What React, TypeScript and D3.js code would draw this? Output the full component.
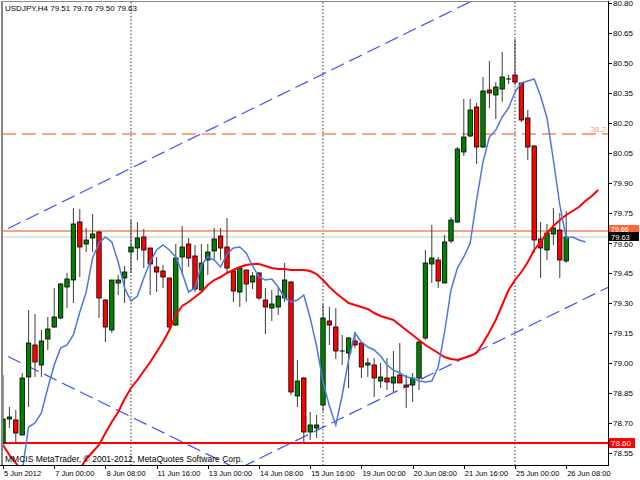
import React from "react";
import * as d3 from "d3";

// USDJPY H4 bars, 5 Jun 2012 16:00 .. 26 Jun 2012 08:00
const opens = [
  78.6, 78.72, 78.715, 78.64, 78.93, 79.09, 78.99, 79.12, 79.18, 79.225,
  79.38, 79.415, 79.705, 79.595, 79.625, 79.655, 79.315, 79.165, 79.4, 79.425,
  79.555, 79.575, 79.63, 79.575, 79.48, 79.46, 79.425, 79.19, 79.53, 79.595,
  79.535, 79.365, 79.515, 79.56, 79.635, 79.58, 79.46, 79.355, 79.465, 79.405,
  79.45, 79.315, 79.275, 79.28, 79.325, 79.405, 78.835, 78.925, 78.655, 78.675,
  78.79, 79.21, 79.18, 79.06, 79.05, 79.11, 79.1, 78.99, 78.99, 78.91,
  78.925, 78.9, 78.94, 78.89, 78.89, 78.925, 79.125, 79.495, 79.515, 79.4,
  79.61, 79.705, 80.055, 80.135, 80.28, 80.08, 80.365, 80.34, 80.37, 80.42,
  80.44, 80.4, 80.225, 80.085, 79.62, 79.565, 79.645, 79.665, 79.51,
];
const highs = [
  78.94, 78.78, 78.765, 78.95, 79.265, 79.245, 79.165, 79.23, 79.375, 79.4,
  79.45, 79.775, 79.77, 79.675, 79.745, 79.66, 79.32, 79.415, 79.44, 79.485,
  79.715, 79.705, 79.67, 79.575, 79.53, 79.49, 79.425, 79.595, 79.685, 79.625,
  79.59, 79.595, 79.595, 79.675, 79.675, 79.725, 79.46, 79.48, 79.465, 79.455,
  79.455, 79.375, 79.365, 79.375, 79.5, 79.41, 79.015, 78.93, 78.755, 78.74,
  79.295, 79.28, 79.275, 79.14, 79.13, 79.155, 79.1, 79.025, 79.025, 79.0,
  79.025, 79.06, 79.1, 78.94, 78.95, 79.11, 79.565, 79.69, 79.53, 79.64,
  79.73, 80.08, 80.32, 80.32, 80.3, 80.43, 80.51, 80.405, 80.555, 80.44,
  80.62, 80.405, 80.265, 80.09, 79.705, 79.695, 79.775, 79.75, 79.76,
];
const lows = [
  78.58, 78.675, 78.6, 78.64, 78.78, 78.93, 78.93, 79.065, 79.175, 79.22,
  79.275, 79.3, 79.43, 79.555, 79.555, 79.225, 79.105, 79.15, 79.34, 79.3,
  79.45, 79.515, 79.475, 79.34, 79.355, 79.375, 79.155, 79.185, 79.44, 79.48,
  79.355, 79.355, 79.44, 79.515, 79.515, 79.45, 79.305, 79.28, 79.305, 79.37,
  79.315, 79.145, 79.21, 79.24, 79.305, 78.84, 78.78, 78.6, 78.615, 78.625,
  78.76, 79.09, 79.02, 78.99, 78.875, 79.075, 78.925, 78.93, 78.83, 78.875,
  78.865, 78.855, 78.9, 78.775, 78.805, 78.865, 79.115, 79.4, 79.375, 79.4,
  79.6, 79.7, 80.035, 80.13, 79.995, 80.075, 80.275, 80.22, 80.305, 80.395,
  80.39, 80.205, 80.015, 79.55, 79.425, 79.515, 79.59, 79.425, 79.5,
];
const closes = [
  78.72, 78.73, 78.65, 78.925, 79.1, 79.005, 79.11, 79.17, 79.23, 79.395,
  79.42, 79.695, 79.58, 79.615, 79.645, 79.325, 79.18, 79.415, 79.415, 79.455,
  79.58, 79.625, 79.565, 79.495, 79.455, 79.43, 79.18, 79.525, 79.58, 79.525,
  79.37, 79.5, 79.555, 79.62, 79.575, 79.475, 79.36, 79.475, 79.395, 79.435,
  79.325, 79.28, 79.295, 79.335, 79.415, 78.855, 78.91, 78.655, 78.69, 78.69,
  79.225, 79.19, 79.06, 79.06, 79.125, 79.09, 78.98, 79.0, 78.925, 78.93,
  78.905, 78.93, 78.9, 78.88, 78.925, 79.105, 79.5, 79.525, 79.41, 79.605,
  79.715, 80.07, 80.13, 80.265, 80.08, 80.36, 80.35, 80.38, 80.43, 80.42,
  80.405, 80.215, 80.08, 79.615, 79.575, 79.65, 79.675, 79.515, 79.63,
];

// fast moving average (blue), first value sits on bar 3, runs 3 bars past the last bar
const fastStart = 3;
const fastMa = [
  78.46, 78.68, 78.7, 78.75, 78.875, 78.99, 79.075, 79.09, 79.14, 79.255,
  79.355, 79.525, 79.6, 79.63, 79.605, 79.505, 79.375, 79.31, 79.335, 79.425,
  79.505, 79.565, 79.59, 79.565, 79.53, 79.45, 79.355, 79.375, 79.49, 79.53,
  79.515, 79.48, 79.545, 79.575, 79.58, 79.55, 79.485, 79.43, 79.415, 79.42,
  79.38, 79.325, 79.305, 79.315, 79.34, 79.225, 79.085, 78.905, 78.785, 78.69,
  78.84, 79.015, 79.15, 79.105, 79.08, 79.065, 79.035, 78.99, 78.965, 78.95,
  78.93, 78.925, 78.91, 78.905, 78.91, 78.98, 79.155, 79.365, 79.475, 79.53,
  79.6, 79.815, 80.005, 80.13, 80.165, 80.23, 80.275, 80.355, 80.4, 80.41,
  80.42, 80.335, 80.225, 80.015, 79.79, 79.625, 79.63, 79.615, 79.605,
];

// slow moving average (red), starts on bar 0, runs 5 bars past the last bar
const slowMa = [
  78.59, 78.54, 78.5, 78.46, 78.43, 78.4, 78.38, 78.37, 78.37, 78.38,
  78.4, 78.43, 78.47, 78.52, 78.555, 78.59, 78.65, 78.705, 78.755, 78.82,
  78.875, 78.915, 78.96, 79.005, 79.055, 79.105, 79.165, 79.24, 79.285, 79.305,
  79.33, 79.355, 79.39, 79.415, 79.43, 79.45, 79.465, 79.48, 79.49, 79.495,
  79.495, 79.485, 79.475, 79.47, 79.47, 79.465, 79.465, 79.465, 79.46, 79.445,
  79.415, 79.38, 79.35, 79.325, 79.3, 79.29, 79.28, 79.27, 79.25, 79.235,
  79.225, 79.215, 79.19, 79.165, 79.14, 79.115, 79.09, 79.07, 79.05, 79.03,
  79.02, 79.015, 79.025, 79.035, 79.05, 79.1, 79.155, 79.215, 79.29, 79.365,
  79.415, 79.455, 79.505, 79.565, 79.605, 79.65, 79.685, 79.715, 79.74, 79.76,
  79.78, 79.81, 79.835, 79.865,
];

const priceTicks = [
  80.8, 80.65, 80.5, 80.35, 80.2, 80.05, 79.9, 79.75, 79.6, 79.45, 79.3, 79.15,
  79.0, 78.85, 78.7, 78.55,
];
const timeTickBars = [0, 8, 16, 24, 32, 40, 48, 56, 64, 72, 80, 88];
const timeTickLabels = [
  "5 Jun 2012", "7 Jun 00:00", "8 Jun 08:00", "11 Jun 16:00", "13 Jun 00:00",
  "14 Jun 08:00", "15 Jun 16:00", "19 Jun 00:00", "20 Jun 08:00", "21 Jun 16:00",
  "25 Jun 00:00", "26 Jun 08:00",
];
const separatorBars = [20, 50, 80];

// trend lines as [bar, price] anchor pairs
const upperChannel: [number, number][] = [[0, 79.66], [72, 80.79]];
const lowerChannel: [number, number][] = [[38, 78.49], [94, 79.37]];
const fallingLine: [number, number][] = [[0, 79.045], [36, 78.48]];

const fibPrice = 80.145;
const fibLabel = "38.2";
const resistancePrice = 79.66;
const supportPrice = 78.6;
const bidPrice = 79.63;

const header = "USDJPY,H4  79.51 79.76 79.50 79.63";
const footer = "MMCIS MetaTrader, \u00a9 2001-2012, MetaQuotes Software Corp.";

const W = 640;
const H = 480;
const plot = { left: 2, top: 2, right: 608, bottom: 465 };
const font = "'Liberation Sans', Arial, sans-serif";

const x = d3.scaleLinear().domain([0, 88]).range([3, 566.2]);
const y = d3.scaleLinear().domain([78.55, 80.8]).range([453, 3]);

const extend = (pts: [number, number][]): [number, number][] => {
  const [[b0, p0], [b1, p1]] = pts;
  const k = (p1 - p0) / (b1 - b0);
  return [[-2, p0 + k * (-2 - b0)], [100, p0 + k * (100 - b0)]];
};

const App: React.FC = () => {
  const line = d3
    .line<[number, number]>()
    .x((d) => x(d[0]))
    .y((d) => y(d[1]));

  const fastPts = fastMa.map((v, i) => [i + fastStart, v] as [number, number]);
  const slowPts = slowMa.map((v, i) => [i, v] as [number, number]);

  return (
    <svg
      width={W}
      height={H}
      style={{ position: "absolute", left: 0, top: 0, background: "#fff" }}
    >
      <defs>
        <clipPath id="plot">
          <rect x={plot.left} y={plot.top} width={plot.right - plot.left} height={plot.bottom - plot.top} />
        </clipPath>
      </defs>
      <rect width={W} height={H} fill="#fff" />

      <g clipPath="url(#plot)">
        {separatorBars.map((b) => (
          <line key={b} x1={x(b)} x2={x(b)} y1={plot.top} y2={plot.bottom}
            stroke="#333" strokeWidth={1} strokeDasharray="1.5,2" />
        ))}

        <line x1={plot.left} x2={plot.right} y1={y(bidPrice)} y2={y(bidPrice)} stroke="#c8c8c8" strokeWidth={1} />
        <line x1={plot.left} x2={plot.right} y1={y(resistancePrice)} y2={y(resistancePrice)} stroke="#f8a584" strokeWidth={2} />
        <line x1={plot.left} x2={plot.right} y1={y(fibPrice)} y2={y(fibPrice)} stroke="#f8a584" strokeWidth={2} strokeDasharray="14,6" />
        <line x1={plot.left} x2={plot.right} y1={y(supportPrice)} y2={y(supportPrice)} stroke="#ff0000" strokeWidth={2} />

        {[upperChannel, lowerChannel, fallingLine].map((t, i) => (
          <path key={i} d={line(extend(t)) ?? ""} fill="none" stroke="#3f4fff" strokeWidth={1.2} strokeDasharray="14,6" />
        ))}

        {opens.map((o, i) => {
          const c = closes[i];
          const cx = x(i);
          const top = y(Math.max(o, c));
          const h = Math.abs(y(o) - y(c));
          return (
            <g key={i}>
              <line x1={cx} x2={cx} y1={y(highs[i])} y2={y(lows[i])} stroke="#3a3a3a" strokeWidth={1} />
              {h < 1 ? (
                <line x1={cx - 2.5} x2={cx + 2.5} y1={top} y2={top} stroke="#000" strokeWidth={1} />
              ) : (
                <rect x={cx - 2.2} y={top} width={4.4} height={h}
                  fill={c >= o ? "#008000" : "#ff0000"} stroke="#000" strokeWidth={0.8} />
              )}
            </g>
          );
        })}

        <path d={line(slowPts) ?? ""} fill="none" stroke="#ff0000" strokeWidth={2} />
        <path d={line(fastPts) ?? ""} fill="none" stroke="#4a78e0" strokeWidth={1.5} />
      </g>

      <text x={606} y={y(fibPrice) - 2} textAnchor="end" fontFamily={font} fontSize={8} fill="#f59a78">
        {fibLabel}
      </text>

      {/* frame */}
      <line x1={2} x2={2} y1={1} y2={plot.bottom} stroke="#888" strokeWidth={2} />
      <line x1={2} x2={plot.right} y1={1.5} y2={1.5} stroke="#888" strokeWidth={1} />
      <line x1={plot.right + 0.5} x2={plot.right + 0.5} y1={1} y2={plot.bottom + 0.5} stroke="#000" strokeWidth={1} />
      <line x1={0} x2={plot.right + 1} y1={plot.bottom + 0.5} y2={plot.bottom + 0.5} stroke="#000" strokeWidth={1} />

      {/* price axis */}
      {priceTicks.map((p) => (
        <g key={p}>
          <line x1={plot.right} x2={plot.right + 4} y1={Math.round(y(p)) + 0.5} y2={Math.round(y(p)) + 0.5} stroke="#000" />
          <text x={613} y={y(p) + (p === 79.6 ? 4 : 3)} fontFamily={font} fontSize={8} fill="#000">
            {p.toFixed(2)}
          </text>
        </g>
      ))}

      <rect x={609} y={y(resistancePrice) - 6} width={30} height={8} fill="#ff6633" />
      <text x={611} y={y(resistancePrice) + 1} fontFamily={font} fontSize={7} fill="#fff">
        {resistancePrice.toFixed(2)}
      </text>
      <rect x={609} y={y(bidPrice) - 5} width={30} height={9} fill="#000" />
      <text x={611} y={y(bidPrice) + 2.5} fontFamily={font} fontSize={7.5} fill="#fff">
        {bidPrice.toFixed(2)}
      </text>
      <rect x={609} y={y(supportPrice) - 5} width={26} height={10} fill="#ff0000" />
      <text x={611} y={y(supportPrice) + 3} fontFamily={font} fontSize={8} fill="#fff">
        {supportPrice.toFixed(2)}
      </text>

      {/* time axis */}
      {timeTickBars.map((b, i) => (
        <g key={b}>
          <line x1={Math.round(x(b)) + 0.5} x2={Math.round(x(b)) + 0.5} y1={plot.bottom} y2={plot.bottom + 4} stroke="#000" />
          <text x={x(b) + 1} y={476} fontFamily={font} fontSize={7.5} fill="#000">
            {timeTickLabels[i]}
          </text>
        </g>
      ))}

      <text x={5} y={11} fontFamily={font} fontSize={8} fill="#000">
        {header}
      </text>
      <text x={5} y={462} fontFamily={font} fontSize={8.5} fill="#000">
        {footer}
      </text>
    </svg>
  );
};

export default App;
